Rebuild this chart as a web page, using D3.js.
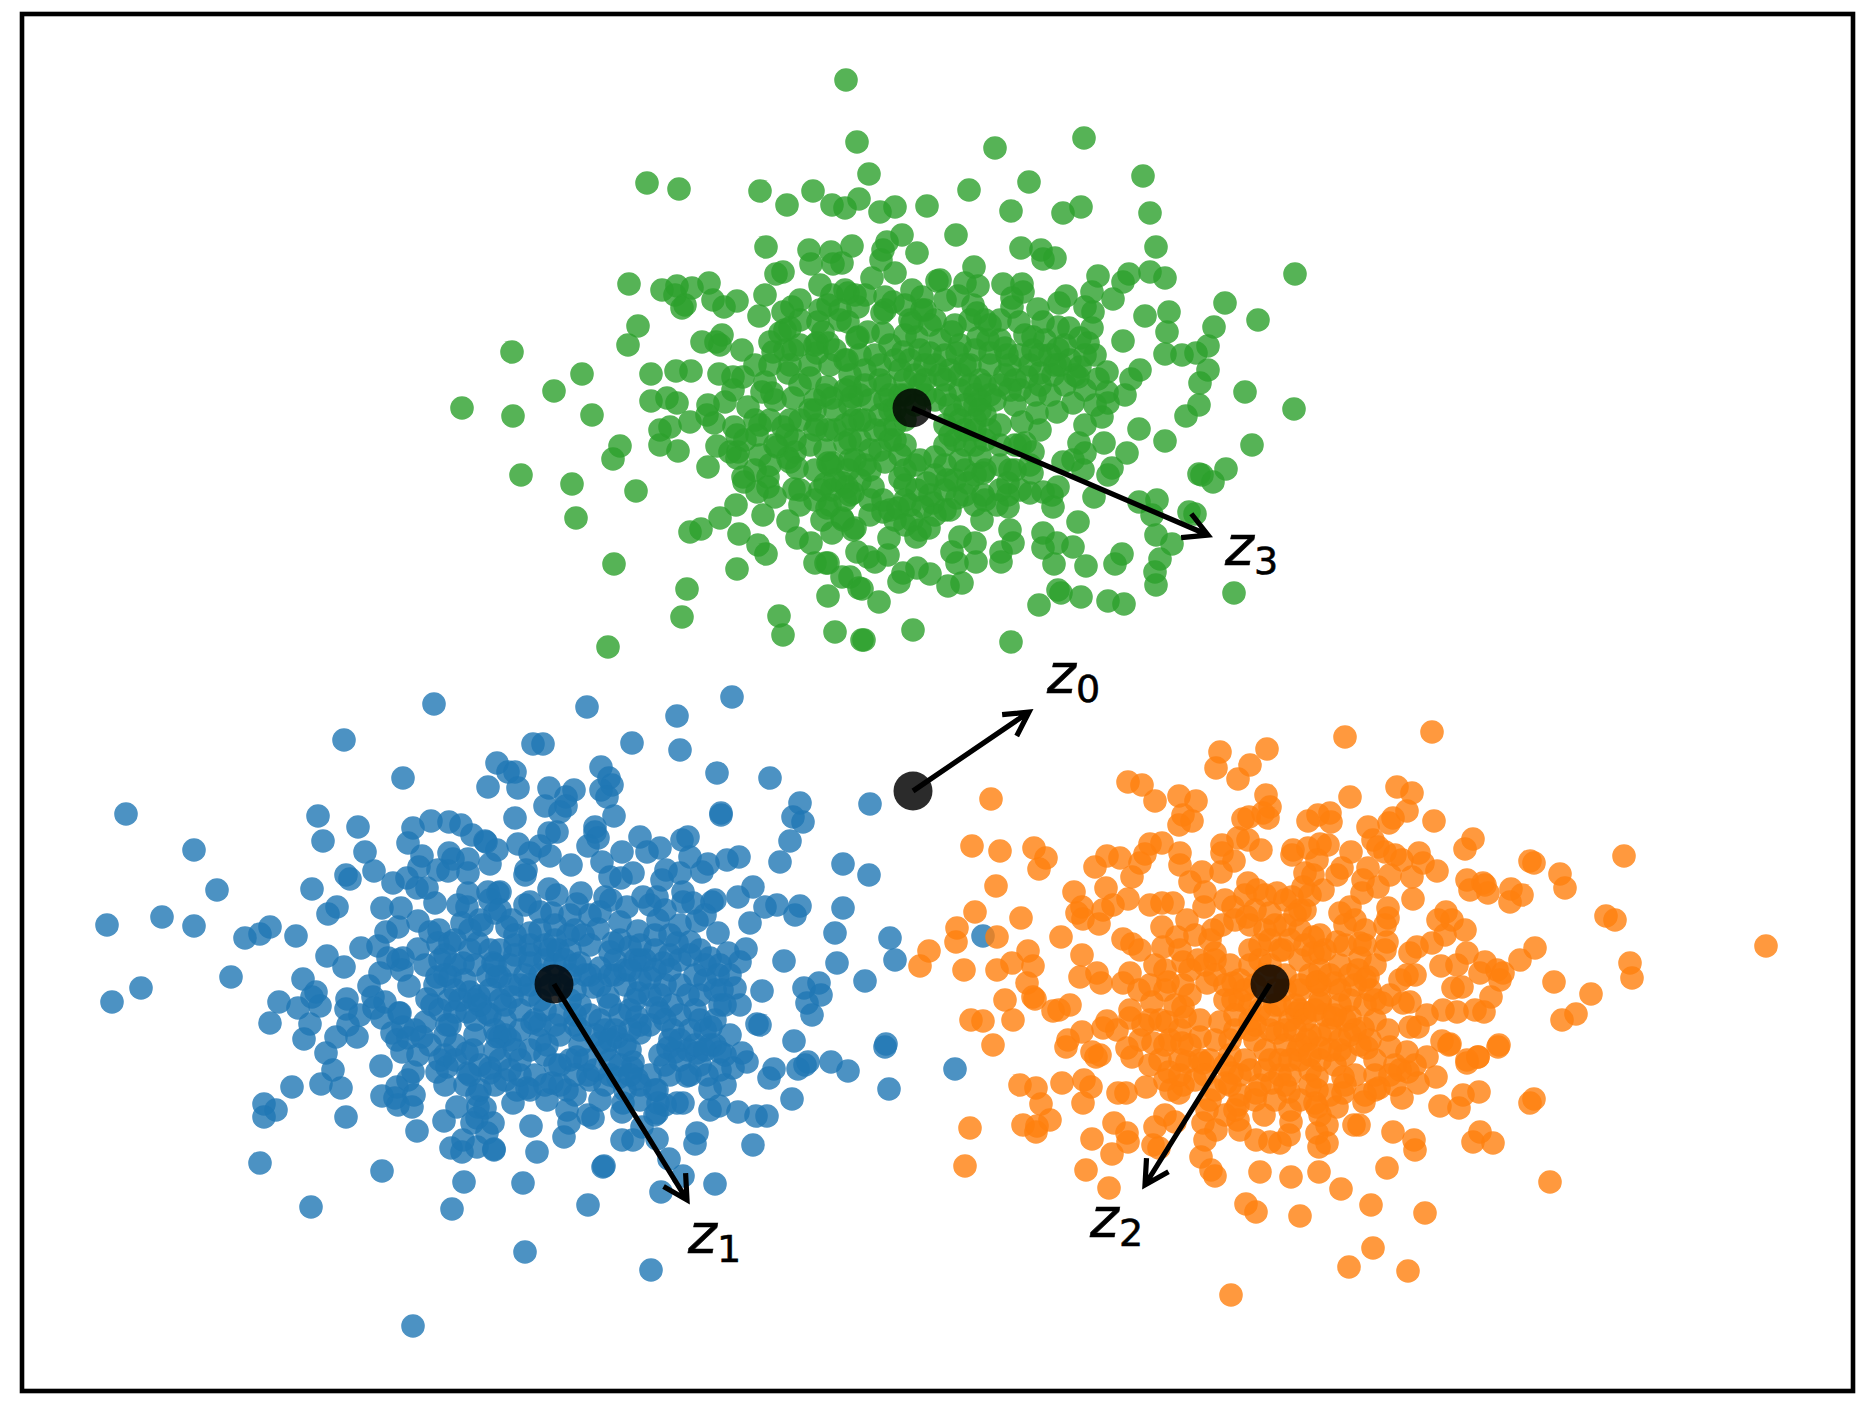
<!DOCTYPE html>
<html>
<head>
<meta charset="utf-8">
<script src="https://cdn.jsdelivr.net/npm/d3@7"></script>
<style>
  html, body { margin: 0; padding: 0; background: #fff; }
  #chart { width: 1871px; height: 1407px; }
  svg { display: block; }
</style>
</head>
<body>
<div id="chart"></div>
<script>
//Colores fijos
const COLOR_BLUE = '#1f77b4',
COLOR_ORANGE = '#ff7f0e',
COLOR_GREEN = '#2ca02c';

//The source has no axes, so values are read in its own picture units
const bluePoints = [
[434,704],[344,740],[403,778],[497,763],[488,787],[126,814],[318,816],[358,827],[323,841],[194,850],[413,828],[431,821],[449,822],[461,825],[472,835],[485,841],[408,843],[365,852],[422,856],[449,853],[453,859],[468,859],[490,864],[346,875],[350,879],[374,871],[419,867],[438,870],[448,871],[468,873],[217,890],[312,889],[393,883],[407,878],[417,888],[427,888],[468,893],[488,892],[498,893],[337,907],[328,914],[382,908],[401,908],[435,903],[458,905],[467,907],[480,920],[495,913],[107,925],[162,917],[194,926],[245,938],[260,934],[270,927],[296,936],[398,927],[386,932],[418,921],[439,930],[430,932],[462,923],[438,943],[450,943],[478,943],[490,950],[327,956],[361,948],[378,946],[388,958],[398,960],[403,958],[418,949],[445,955],[463,963],[493,963],[344,967],[380,973],[402,970],[437,977],[450,977],[497,977],[231,977],[303,979],[141,988],[112,1002],[369,986],[409,986],[316,992],[312,997],[320,1006],[279,1002],[298,1008],[347,999],[346,1009],[373,997],[385,1002],[374,1008],[399,1013],[427,999],[432,1005],[449,1000],[479,996],[467,1012],[487,1013],
[270,1023],[310,1024],[304,1039],[348,1025],[336,1037],[357,1037],[360,1015],[382,1018],[400,1013],[425,1022],[447,1025],[392,1033],[403,1027],[415,1030],[422,1037],[397,1040],[408,1038],[402,1052],[418,1055],[326,1053],[381,1066],[333,1070],[413,1072],[437,1072],[445,1055],[455,1045],[467,1053],[447,1067],[468,1073],[490,1068],[497,1037],[473,1050],[292,1087],[321,1084],[341,1088],[264,1104],[276,1110],[264,1117],[346,1117],[382,1096],[397,1087],[408,1080],[395,1098],[398,1105],[414,1095],[412,1107],[417,1131],[444,1121],[457,1107],[477,1095],[478,1107],[485,1108],[477,1118],[472,1123],[487,1133],[463,1140],[451,1148],[462,1152],[477,1147],[494,1150],[260,1163],[382,1171],[464,1182],[452,1209],[311,1207],[413,1326],
[587,707],[677,716],[732,697],[533,744],[543,744],[632,743],[680,750],[508,772],[515,772],[518,788],[549,788],[574,790],[601,767],[609,778],[612,785],[601,790],[607,797],[717,773],[770,778],[545,806],[566,797],[566,806],[560,812],[515,818],[614,816],[721,813],[721,815],[800,803],[793,817],[803,822],[870,804],[595,827],[595,832],[598,838],[557,832],[549,833],[640,837],[688,837],[682,840],[486,842],[497,850],[518,844],[540,846],[530,853],[550,856],[588,846],[622,852],[647,852],[660,848],[690,857],[602,862],[571,865],[526,870],[525,875],[790,841],[780,862],[739,857],[727,860],[708,864],[702,872],[843,864],[869,875],[610,877],[621,878],[633,873],[666,870],[662,880],[680,873],[683,892],[753,887],[738,897],[715,900],[712,902],[693,903],[683,902],[657,897],[643,897],[605,897],[611,900],[627,907],[581,893],[577,904],[549,889],[557,895],[530,902],[500,892],[490,900],[552,913],[765,907],[777,905],[795,915],[800,906],[843,908],[750,923],[697,921],[718,933],[835,933],[658,920],[638,931],[598,929],[583,935],[568,935],[507,927],[530,933],[613,943],[630,947],[677,943],[690,942],[746,949],[728,953],[740,962],[710,958],[784,961],[837,963],[890,938],[895,960],[865,981],[762,991],[804,988],[819,983],[821,995],[807,1003],[812,1015],[718,975],[730,975],[735,988],[740,1005],[720,1005],[688,995],[700,995],[657,1008],[638,993],[650,978],[663,963],[635,960],[610,952],[608,997],[580,963],[593,987],[530,963],[500,977],[512,997],[983,936],[955,1069],
[760,1025],[757,1024],[794,1041],[885,1047],[886,1044],[889,1089],[808,1062],[798,1069],[805,1065],[831,1062],[848,1071],[774,1069],[769,1078],[792,1099],[767,1116],[756,1116],[738,1112],[719,1106],[710,1110],[753,1145],[697,1133],[695,1144],[747,1062],[742,1053],[733,1068],[720,1052],[711,1027],[710,1045],[697,1053],[688,1050],[675,1052],[668,1048],[687,1076],[707,1075],[710,1089],[657,1090],[683,1103],[677,1103],[658,1103],[657,1113],[655,1115],[637,1079],[618,1078],[632,1068],[623,1103],[622,1112],[642,1127],[622,1140],[633,1140],[657,1139],[669,1159],[683,1176],[661,1192],[715,1184],[604,1166],[603,1167],[523,1183],[588,1205],[525,1252],[651,1270],[537,1152],[531,1126],[564,1137],[569,1123],[593,1118],[588,1115],[494,1149],[493,1123],[547,1100],[567,1110],[567,1090],[552,1083],[588,1075],[577,1057],[547,1045],[500,1037],[517,1090],[527,1088],[513,1103],[490,1073],[600,1043],[617,1037],[640,1033],[633,1062],[660,1013],[673,1030],[532,1023],[637,1017],
[500,1000],[520,1010],[540,1000],[560,1015],[580,1005],[600,1020],[620,1015],[640,1025],[520,1030],[540,1040],[560,1035],[580,1045],[610,1060],[625,1045],[560,985],[520,985],[540,975],[590,975],[615,975],[640,960],
[470,930],[482,925],[500,910],[512,920],[525,905],[540,912],[555,925],[570,915],[590,915],[600,912],[620,922],[650,905],[665,910],[680,925],[705,915],
[455,940],[470,950],[500,950],[515,945],[530,945],[545,945],[558,950],[570,950],[600,968],[615,960],[625,970],[645,960],[655,950],[670,955],[680,960],[700,950],[720,965],
[440,960],[455,965],[475,965],[488,975],[510,965],[525,975],[545,960],[555,965],[570,975],[585,975],[600,985],[625,985],[640,980],[665,985],[680,985],[705,980],[722,990],
[425,965],[435,985],[455,990],[470,992],[490,990],[505,1005],[530,995],[545,1010],[575,990],[590,1015],[610,1005],[630,1010],[650,995],[672,1005],[695,1010],[715,1020],
[440,1010],[455,1012],[475,1020],[490,1015],[505,1020],[535,1020],[555,1025],[575,1025],[595,1035],[615,1030],[650,1025],[665,1020],[690,1030],[705,1030],[730,1035],
[445,1035],[475,1035],[495,1030],[510,1040],[530,1050],[545,1055],[570,1060],[585,1060],[605,1050],[630,1050],[660,1055],[680,1040],[700,1065],[720,1070],
[430,1045],[440,1060],[455,1060],[480,1065],[500,1060],[520,1060],[535,1075],[555,1065],[590,1080],[605,1085],[625,1090],[640,1085],[670,1075],[690,1075],[725,1085],
[445,1085],[465,1085],[480,1090],[505,1080],[530,1090],[545,1085],[575,1095],[600,1100],[640,1100],[665,1105]
];

//Dense middle of the clouds, estimated since single dots cannot be told apart there
const blueCore = [
[515,935],[540,930],[555,940],[575,930],[590,945],[620,940],[640,945],[655,935],[670,935],[690,955],[705,965],
[465,980],[480,1005],[495,965],[515,955],[530,955],[550,950],[565,960],[575,965],[610,975],[630,970],[655,970],[670,970],[695,975],[715,990],
[445,975],[460,1000],[475,1000],[510,985],[530,985],[550,985],[570,1000],[605,1030],[635,1000],[660,995],[680,1015],[700,1020],[725,1005],
[450,1025],[505,1035],[495,1050],[515,1050],[540,1025],[575,1015],[580,1030],[610,1040],[630,1030],[670,1040],[695,1045],[715,1045],
[510,1070],[560,1065],[575,1075],[595,1070],[620,1065],[650,1075],[665,1065],[680,1060],[705,1050],[725,1055],[470,1075],[495,1085],[520,1075],[560,1085],[610,1075],[630,1075],[655,1090]
];

const orangePoints = [
[991,799],[1220,752],[1267,749],[1216,768],[1250,765],[1238,779],[1128,782],[1142,785],[1155,801],[1179,796],[1196,801],[1266,795],[1270,807],[1268,818],[1263,813],[1183,815],[1192,821],[1179,825],[1243,819],[1249,817],[1308,821],[1318,815],[972,846],[1000,851],[1034,848],[1046,858],[1039,869],[1238,838],[1248,840],[1261,850],[1222,845],[1222,853],[1234,861],[1221,872],[1162,843],[1150,844],[1145,854],[1140,863],[1180,853],[1180,865],[1293,850],[1292,855],[1107,856],[1120,858],[1095,867],[1132,877],[996,886],[1106,888],[1074,892],[1190,882],[1202,872],[1205,892],[1248,883],[1305,873],[1082,907],[1077,913],[1083,919],[1099,924],[1103,910],[1113,905],[1128,899],[1150,905],[1162,903],[1173,903],[1204,907],[1233,907],[1257,890],[1277,893],[1292,897],[975,912],[1021,918],[957,928],[956,942],[997,937],[1061,937],[1162,927],[1187,920],[1213,930],[1247,917],[1270,913],[1300,910],[1177,937],[1123,939],[1132,944],[1140,950],[929,951],[1028,951],[1082,955],[1163,947],[920,966],[964,970],[997,970],[1012,963],[1033,966],[1155,965],[1183,962],[1198,960],[1215,953],[1250,950],[1283,950],[1130,973],[1080,977],[1097,973],[1101,983],[1123,983],[1027,983],[1005,1000],[1035,999],[1033,997],[1139,990],[1168,982],[1183,985],[1207,983],[1233,983],[1317,982],[1070,1005],[1059,1010],[1053,1011],[971,1020],[983,1021],[1013,1020],[1152,1002],[1183,1007],[1233,1000],[1300,1010],[1107,1021],[1130,1018],[1103,1028],[1082,1032],[1117,1030],[1143,1025],[1167,1022],[1185,1017],[1200,1037],[1220,1022],[993,1045],[1068,1040],[1066,1047],[1092,1052],[1100,1055],[1127,1048],[1153,1043],[1182,1043],[1250,1030],[1277,1033],[1297,1013],[1298,1050],
[1345,737],[1432,732],[1350,797],[1397,787],[1412,793],[1407,811],[1393,818],[1389,823],[1434,821],[1368,827],[1330,813],[1331,822],[1473,839],[1465,849],[1530,861],[1534,863],[1624,856],[1560,874],[1565,888],[1373,840],[1378,847],[1385,852],[1395,855],[1402,860],[1419,853],[1423,863],[1351,852],[1328,845],[1320,844],[1308,848],[1317,860],[1437,871],[1412,877],[1390,875],[1368,868],[1342,868],[1337,875],[1467,880],[1470,890],[1483,883],[1485,885],[1488,893],[1511,889],[1522,895],[1510,902],[1413,899],[1313,875],[1323,890],[1363,880],[1362,893],[1378,887],[1303,887],[1606,916],[1615,920],[1446,912],[1438,920],[1452,920],[1465,930],[1445,935],[1388,918],[1388,908],[1350,907],[1355,920],[1340,913],[1305,910],[1535,948],[1520,960],[1766,946],[1630,963],[1632,978],[1554,982],[1591,994],[1576,1014],[1562,1020],[1432,943],[1417,947],[1410,953],[1387,942],[1385,950],[1360,943],[1337,942],[1313,937],[1313,953],[1320,953],[1441,966],[1457,965],[1467,953],[1485,962],[1480,973],[1497,970],[1503,973],[1500,980],[1407,975],[1415,975],[1400,980],[1453,988],[1462,987],[1491,997],[1368,977],[1358,970],[1335,983],[1317,982],[1370,990],[1350,1000],[1382,1003],[1403,1003],[1410,1002],[1427,1015],[1443,1010],[1457,1012],[1475,1010],[1484,1012],[1320,1003],[1305,1013],[1333,1018],[1350,1017],[1363,1028],[1388,1030],[1410,1027],[1418,1027],[1442,1041],[1450,1044],[1499,1045],[1478,1057],[1467,1060],[1340,1050],[1367,1048],[1320,1048],[1307,1040],[1407,1052],[1427,1057],[1390,1047],
[1096,1057],[1132,1057],[1187,1062],[1203,1063],[1020,1085],[1036,1088],[1062,1083],[1084,1080],[1091,1087],[1083,1103],[1041,1104],[1118,1093],[1126,1093],[1146,1087],[1169,1072],[1183,1085],[1171,1090],[1179,1093],[1226,1083],[1232,1073],[1256,1093],[1272,1083],[1289,1092],[1317,1077],[1317,1090],[1315,1103],[1343,1077],[1343,1093],[1364,1102],[1379,1088],[1402,1098],[1408,1072],[1418,1083],[1436,1077],[1440,1106],[1459,1108],[1463,1095],[1479,1092],[1467,1063],[1478,1057],[1498,1047],[1449,1045],[1534,1099],[1530,1103],[1023,1125],[1036,1132],[1050,1120],[1037,1126],[970,1128],[965,1166],[1092,1139],[1114,1123],[1127,1133],[1128,1142],[1112,1154],[1086,1170],[1109,1188],[1165,1115],[1155,1127],[1175,1122],[1153,1145],[1159,1148],[1207,1110],[1203,1123],[1205,1140],[1216,1130],[1201,1157],[1211,1170],[1215,1176],[1238,1105],[1238,1120],[1264,1115],[1256,1140],[1270,1142],[1280,1143],[1289,1135],[1291,1122],[1317,1107],[1317,1133],[1327,1125],[1319,1147],[1327,1143],[1337,1107],[1354,1125],[1359,1125],[1393,1132],[1414,1140],[1415,1150],[1387,1168],[1473,1142],[1480,1132],[1493,1143],[1260,1172],[1291,1177],[1319,1172],[1341,1189],[1371,1205],[1425,1213],[1550,1182],[1246,1204],[1256,1212],[1300,1216],[1373,1248],[1349,1267],[1408,1271],[1231,1295],
[1240,1000],[1260,1010],[1280,1005],[1300,990],[1320,1000],[1260,960],[1280,950],[1300,960],[1320,970],[1340,990],[1250,1020],[1270,1030],[1290,1020],[1310,1035],[1330,1030],[1230,1040],[1245,1060],[1265,1050],[1285,1045],[1300,1060],[1320,1060],[1340,1040],[1280,1075],[1260,1085],
[1225,900],[1245,895],[1265,895],[1285,900],[1310,895],[1222,925],[1250,925],[1265,930],[1285,925],[1300,930],[1320,935],[1345,925],[1365,930],[1385,925],[1215,960],[1230,965],[1250,965],[1270,965],[1285,975],[1300,985],[1320,985],[1340,965],[1360,958],[1375,965],[1205,965],[1190,970],
[1215,975],[1240,980],[1255,985],[1275,990],[1295,1005],[1340,1005],[1355,985],[1375,1000],[1390,995],[1225,1000],[1250,1005],[1270,1015],[1285,1030],[1305,1020],[1325,1015],[1345,1020],[1365,1005],
[1150,985],[1165,990],[1190,995],[1160,1020],[1180,1030],[1200,1020],[1215,1040],[1235,1030],[1255,1040],[1280,1060],[1300,1045],[1320,1035],[1345,1055],[1360,1045],[1375,1060],[1395,1065],[1415,1065],
[1140,1040],[1165,1045],[1180,1060],[1200,1060],[1225,1065],[1240,1075],[1265,1070],[1290,1075],[1310,1070],[1335,1065],[1355,1075],[1375,1075],[1395,1085],
[1150,1065],[1165,1080],[1195,1080],[1215,1090],[1240,1095],[1275,1100],[1300,1100],[1330,1095],[1365,1095],[1400,1070],[1210,1100],[1225,1115],[1240,1130]
];

const orangeCore = [
[1235,920],[1255,910],[1275,925],[1295,915],[1260,945],[1270,940],[1290,940],[1305,945],[1325,950],[1345,945],[1365,945],[1210,940],[1225,985],[1245,990],[1265,975],[1285,990],[1310,975],[1330,975],[1350,975],[1365,980],[1235,1015],[1255,1025],[1275,1005],[1295,1030],[1315,1010],[1335,1015],[1355,1030],[1375,1020],[1175,1005],[1170,1040],[1190,1045],[1210,1060],[1230,1055],[1250,1070],[1270,1060],[1290,1060],[1310,1055],[1330,1050],[1350,1035],[1370,1040],[1390,1075],[1160,1060],[1180,1075],[1205,1075],[1230,1085],[1255,1100],[1285,1085],[1310,1085],[1345,1085],[1375,1090],[1130,1010],[1150,1020],[1165,970],[1180,950],[1195,935],[1235,1110],[1290,1110],[1320,1115]
];

const greenPoints = [
[846,80],[857,142],[647,183],[679,189],[760,191],[787,205],[813,191],[832,205],[845,208],[859,199],[766,247],[809,250],[831,252],[811,264],[833,264],[852,246],[776,274],[783,272],[629,284],[662,290],[677,286],[692,288],[709,283],[675,295],[685,305],[682,308],[713,300],[724,307],[737,301],[765,295],[759,316],[783,312],[792,307],[832,295],[845,290],[828,305],[840,310],[855,295],[638,326],[628,345],[702,342],[722,335],[716,342],[720,345],[742,350],[780,333],[790,328],[770,342],[773,352],[793,350],[818,322],[823,332],[840,320],[817,343],[828,343],[817,353],[845,360],[857,338],[512,352],[582,374],[554,391],[651,374],[676,371],[691,371],[719,374],[733,377],[743,377],[765,382],[788,373],[810,378],[827,387],[850,387],
[462,408],[513,416],[592,415],[651,401],[667,398],[677,403],[690,422],[708,405],[707,415],[725,402],[714,423],[733,390],[748,407],[762,392],[772,393],[793,398],[810,410],[832,398],[852,397],[817,425],[827,430],[853,420],[845,443],[660,430],[670,427],[660,445],[678,451],[620,446],[613,459],[734,427],[737,435],[757,435],[760,425],[783,427],[787,435],[717,446],[730,452],[738,452],[737,458],[777,447],[795,452],[788,458],[790,462],[797,468],[708,467],[521,475],[572,484],[636,491],[743,477],[744,482],[768,477],[768,487],[757,492],[775,497],[794,489],[828,463],[833,463],[825,484],[832,490],[843,483],[853,493],[848,470],[827,508],[822,520],[842,518],[832,533],[853,530],[576,518],[736,505],[720,518],[763,515],[701,529],[690,532],[739,534],[788,521],[758,545],[766,554],[797,538],[811,543],[815,563],[826,563],[828,563],[857,552],[614,564],[737,569],[687,589],[842,577],[850,577],[859,588],[828,596],[682,617],[779,616],[783,635],[835,632],[862,640],[608,647],
[869,174],[995,148],[1084,138],[1029,182],[969,190],[1143,176],[880,212],[895,207],[927,206],[1011,211],[1063,213],[1081,207],[1150,213],[956,235],[902,235],[887,242],[883,250],[881,260],[917,253],[1021,248],[1041,250],[1043,259],[1055,258],[1156,247],[1295,274],[842,263],[974,267],[872,278],[895,273],[937,281],[940,280],[1003,284],[965,283],[978,286],[1022,284],[1023,292],[1098,276],[1129,274],[1150,272],[1165,278],[1123,282],[1092,292],[1066,296],[1059,303],[1113,299],[848,293],[885,297],[893,302],[912,290],[922,297],[958,296],[1012,298],[973,305],[1012,307],[1085,307],[1093,312],[1038,309],[1225,303],[1258,320],[1145,316],[1169,312],[977,313],[858,307],[882,313],[922,310],[935,320],[912,323],[955,325],[952,332],[1019,322],[1043,322],[1058,327],[1069,328],[1092,328],[1214,327],[1167,332],[883,333],[868,332],[858,337],[848,322],[1123,341],[1088,343],[1080,338],[1033,337],[1033,350],[1058,349],[978,338],[988,340],[1005,348],[1007,355],[1165,354],[1182,355],[1196,353],[1208,346],[917,337],[903,352],[930,353],[957,353],[990,353],[860,355],[847,360],[1208,370],[1200,383],[1245,392],[1140,370],[1131,379],[1107,372],[1098,379],[1080,367],[1078,377],[1053,375],[1040,373],[1027,377],[1015,380],[1125,395],[1107,392],
[1199,405],[1186,416],[1294,409],[1252,445],[1165,441],[1139,429],[1102,417],[1085,425],[1108,403],[1095,405],[1073,403],[1057,412],[1037,413],[1022,422],[1025,443],[1033,452],[1079,443],[1104,443],[1127,453],[1085,453],[1073,460],[1063,462],[1112,468],[1108,475],[1083,470],[1199,474],[1202,475],[1213,482],[1226,469],[1189,512],[1195,514],[1139,502],[1157,500],[1152,515],[1156,535],[1172,544],[1094,497],[1078,522],[1053,507],[1052,495],[1058,487],[1032,473],[1030,493],[1043,492],[1008,483],[1008,495],[1008,507],[997,505],[982,520],[1010,530],[1013,543],[1001,552],[1001,562],[1043,533],[1043,548],[1057,543],[1073,547],[1054,564],[1086,566],[1122,554],[1115,564],[1160,559],[1155,572],[1156,585],[1234,593],[1058,590],[1061,593],[1081,597],[1108,601],[1124,604],[1039,605],[1011,642],[913,630],[864,640],[879,602],[862,589],[962,583],[948,586],[930,574],[917,568],[903,573],[899,582],[875,562],[889,538],[888,555],[868,557],[916,537],[929,528],[960,537],[952,552],[957,563],[975,543],[976,562],[855,528],[843,520],[870,515],[883,512],[898,508],[912,520],[923,507],[873,487],[883,500],[905,485],[917,490],[933,503],[957,498],[983,495],[968,483],[947,480],[927,483],[885,462],[905,470],[935,457],[960,460],[983,473],[980,457],[850,460],[860,480],[847,487],
[880,380],[900,370],[920,385],[940,375],[960,390],[980,380],[870,400],[890,410],[915,405],[935,400],[955,415],[975,405],[995,400],[875,430],[895,440],[905,420],[945,425],[955,440],[975,430],[1000,425],[880,450],[960,420],[900,455],[1000,445],[1015,405],[860,420],
[800,345],[810,365],[830,365],[800,385],[815,400],[835,410],[850,405],[865,370],[875,355],[890,345],[905,335],[920,350],[940,340],[960,345],[975,350],[990,365],[1010,365],[1020,390],[1035,395],[1050,395],[1065,385],[1085,390],
[885,385],[900,395],[915,375],[935,365],[950,370],[965,365],[980,400],[970,385],[945,395],[925,395],[905,380],[890,395],[985,415],[975,420],[1000,385],
[800,420],[795,440],[810,445],[825,450],[845,425],[860,440],[870,450],[885,430],[895,425],[905,445],[945,445],[965,445],[985,440],[1040,430],[1020,445],
[815,470],[835,480],[850,495],[865,465],[900,478],[905,500],[935,475],[945,490],[965,470],[985,470],[1000,465],[1015,470],[1000,490],[1030,465],
[800,490],[815,500],[830,505],[800,505],[870,500],[895,520],[905,525],[920,530],[935,515],[945,510],[985,500],
[800,300],[820,285],[865,295],[905,305],[925,310],[945,300],[985,320],[1000,320],[1025,335],[1045,340],[1065,345],[1095,355],[1020,355],[1050,355],[1070,360],
[770,365],[785,350],[755,365],[770,420],[745,440],[760,455],[770,465],[815,410],[860,395]
];

const greenCore = [
[815,345],[835,350],[850,375],[865,385],[845,390],[825,395],[880,365],[895,360],[910,360],[925,365],[945,355],[970,365],[985,385],[1005,375],[1030,365],[1040,385],[1055,365],[1075,375],
[885,400],[905,395],[925,380],[945,380],[960,375],[975,395],[990,395],[1010,390],
[835,430],[850,440],[865,420],[880,415],[890,440],[895,410],[950,405],[965,405],[980,410],[990,430],[965,430],[950,435],[975,445],[1015,445],
[815,430],[830,465],[855,460],[870,470],[915,465],[920,460],[945,465],[955,480],[975,475],[1010,470],[1020,490],
[820,490],[845,500],[930,495],[950,510],[965,495],[975,505],[910,505],[890,510],
[790,365],[775,400],[790,420],[755,420],[775,445],[755,470],
[885,310],[910,320],[930,325],[970,320],[990,325],[1000,340],[1040,355],[1060,365],[1085,355],[820,310],[800,320],[785,330]
];

//Black centres and the end of each arrow, z0 to z3
const centers = [[913,791],[554,984],[1270,984],[912,408]];
const arrowTips = [[1029,712],[687,1200],[1145,1185],[1208,535]];

//Labels
const labelNames = ['z', 'z', 'z', 'z'];
const labelSubs = ['0', '1', '2', '3'];
const labelPos = [[1047,693],[688,1253],[1090,1237],[1225,565]];

let margin = {top: 14, right: 18, bottom: 16, left: 22},
    totalWidth = document.getElementById('chart').clientWidth,
    totalHeight = document.getElementById('chart').clientHeight,
    width = totalWidth - margin.left - margin.right,
    height = totalHeight - margin.top - margin.bottom;

let svg = d3.select("#chart")
    .append("svg")
      .attr("width", totalWidth)
      .attr("height", totalHeight);

let x = d3.scaleLinear()
    .domain([margin.left, totalWidth - margin.right])
    .range([margin.left, margin.left + width]);

let y = d3.scaleLinear()
    .domain([margin.top, totalHeight - margin.bottom])
    .range([margin.top, margin.top + height]);

//Nubes de puntos
let series = [
    {points: bluePoints.concat(blueCore), color: COLOR_BLUE},
    {points: orangePoints.concat(orangeCore), color: COLOR_ORANGE},
    {points: greenPoints.concat(greenCore), color: COLOR_GREEN}
];

svg.selectAll("g.cloud")
    .data(series)
    .enter()
    .append("g")
    .attr("class", "cloud")
    .attr("fill", function(d) { return d.color; })
    .selectAll("circle")
    .data(function(d) { return d.points; })
    .enter()
    .append("circle")
    .attr("cx", function(d) { return x(d[0]); })
    .attr("cy", function(d) { return y(d[1]); })
    .attr("r", 11.8)
    .attr("fill-opacity", 0.8);

svg.append("g")
    .selectAll("circle")
    .data(centers)
    .enter()
    .append("circle")
    .attr("cx", function(d) { return x(d[0]); })
    .attr("cy", function(d) { return y(d[1]); })
    .attr("r", 19.5)
    .attr("fill", "#000")
    .attr("fill-opacity", 0.83);

//Flechas
function arrowPath(i) {
    let x0 = x(centers[i][0]), y0 = y(centers[i][1]),
        x1 = x(arrowTips[i][0]), y1 = y(arrowTips[i][1]),
        a = Math.atan2(y1 - y0, x1 - x0),
        head = 27, spread = 0.5;
    let p = d3.path();
    p.moveTo(x0, y0);
    p.lineTo(x1, y1);
    p.moveTo(x1 - head * Math.cos(a - spread), y1 - head * Math.sin(a - spread));
    p.lineTo(x1, y1);
    p.lineTo(x1 - head * Math.cos(a + spread), y1 - head * Math.sin(a + spread));
    return p.toString();
}

svg.append("g")
    .selectAll("path")
    .data(centers)
    .enter()
    .append("path")
    .attr("d", function(d, i) { return arrowPath(i); })
    .attr("fill", "none")
    .attr("stroke", "#000")
    .attr("stroke-width", 5.2)
    .attr("stroke-linejoin", "miter");

let labels = svg.append("g")
    .selectAll("text")
    .data(labelPos)
    .enter()
    .append("text")
    .attr("x", function(d) { return x(d[0]); })
    .attr("y", function(d) { return y(d[1]); })
    .attr("font-family", "'DejaVu Sans'")
    .attr("fill", "#000")
    .attr("stroke", "#000")
    .attr("stroke-width", 0.6);

labels.append("tspan")
    .attr("font-size", 55)
    .attr("font-style", "italic")
    .text(function(d, i) { return labelNames[i]; });

labels.append("tspan")
    .attr("font-size", 38)
    .attr("dy", 9)
    .text(function(d, i) { return labelSubs[i]; });

//Marco
svg.append("rect")
    .attr("x", x(margin.left))
    .attr("y", y(margin.top))
    .attr("width", width)
    .attr("height", height)
    .attr("fill", "none")
    .attr("stroke", "#000")
    .attr("stroke-width", 4.6);
</script>
</body>
</html>
